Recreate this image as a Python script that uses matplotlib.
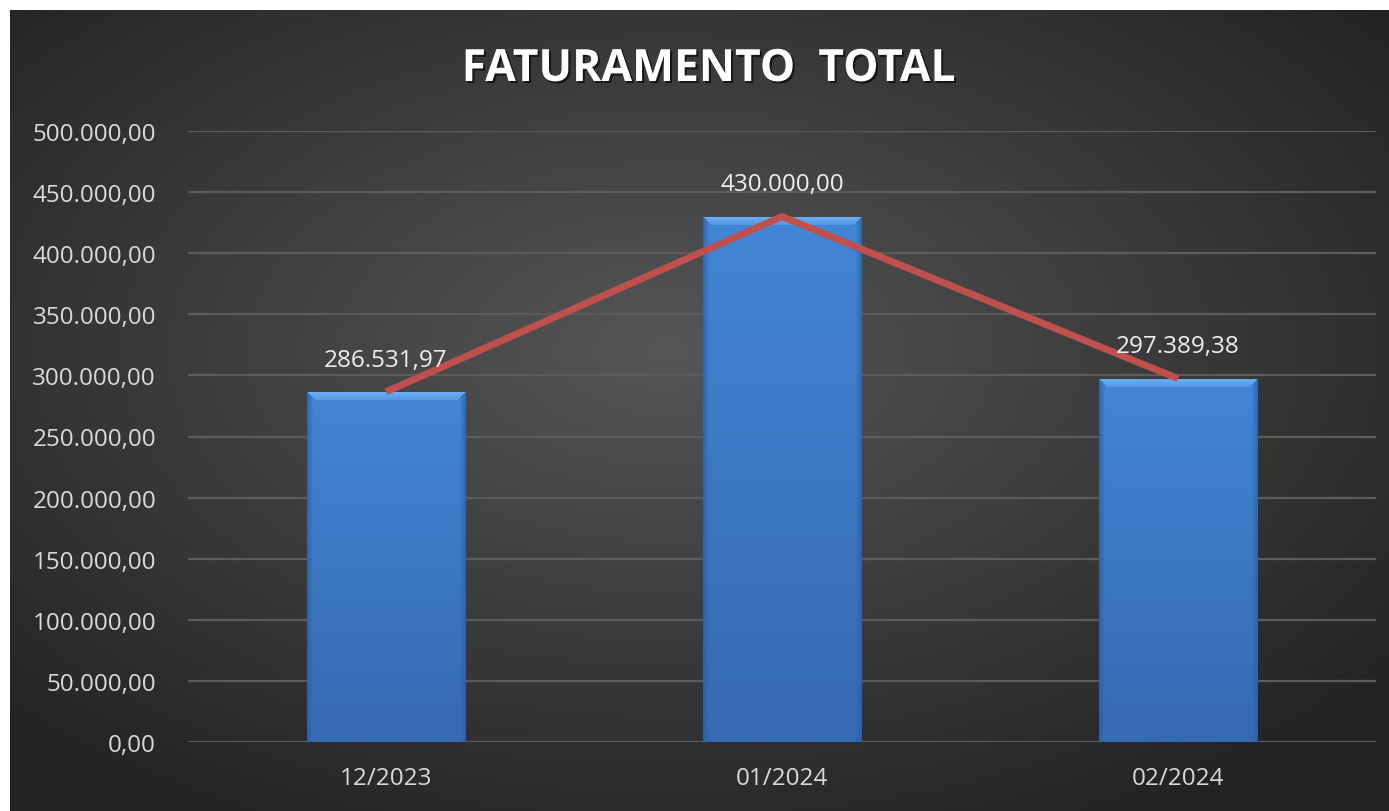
import numpy as np
import matplotlib.pyplot as plt
import matplotlib.patheffects as pe

# data
meses = ["12/2023", "01/2024", "02/2024"]
faturamento = [286531.97, 430000.00, 297389.38]
yticks = [0, 50000, 100000, 150000, 200000, 250000, 300000, 350000, 400000, 450000, 500000]


def brl(v):
    s = f"{v:,.2f}"
    return s.replace(",", "#").replace(".", ",").replace("#", ".")


plt.rcParams['font.family'] = ['Open Sans', 'DejaVu Sans']

W, H = 1389, 812
fig = plt.figure(figsize=(W / 100, H / 100), dpi=100)
fig.patch.set_facecolor("white")

# dark radial background of the chart area
bg = fig.add_axes([10 / W, 0, 1 - 10 / W, (H - 11) / H], zorder=0)
gx, gy = np.meshgrid(np.linspace(-1, 1, 400), np.linspace(-1, 1, 240))
r = np.sqrt(((gx + 0.05) / 1.0) ** 2 + ((gy + 0.15) / 1.0) ** 2)
r = np.clip(r / 1.35, 0, 1)
c0 = np.array([0x56, 0x56, 0x56]) / 255
c1 = np.array([0x23, 0x23, 0x23]) / 255
img = c0[None, None, :] * (1 - r[..., None]) + c1[None, None, :] * r[..., None]
bg.imshow(img, extent=[0, 1, 0, 1], aspect="auto", origin="upper")
bg.set_axis_off()

ax = fig.add_axes([188 / W, (H - 743) / H, 1188 / W, 611 / H], zorder=1)
ax.patch.set_alpha(0)

x = np.arange(len(meses))
bars = ax.bar(x, faturamento, width=0.4, color="#3d7cc9", zorder=2)
ax.set_xlim(-0.5, len(meses) - 0.5)
ax.set_ylim(0, 500000)

ax.set_yticks(yticks)
ax.set_yticklabels([brl(v) for v in yticks], color="#d9d9d9", fontsize=17.5)
ax.set_xticks(x)
ax.set_xticklabels(meses, color="#d9d9d9", fontsize=17.5)
ax.tick_params(length=0)
ax.tick_params(axis="y", pad=23)
ax.tick_params(axis="x", pad=17)
ax.grid(axis="y", color="#5c5c5c", lw=1.6, zorder=1)
ax.set_axisbelow(True)
for s in ax.spines.values():
    s.set_visible(False)

# bevelled gradient fill for each bar
body_top = np.array([0x42, 0x86, 0xd6]) / 255
body_bot = np.array([0x36, 0x6a, 0xb2]) / 255
bevel = np.array([0x6c, 0xb0, 0xf8]) / 255
side = np.array([0x2c, 0x5c, 0xa0]) / 255
for b in bars:
    x0, y0 = b.get_x(), b.get_y()
    bw, bh = b.get_width(), b.get_height()
    p0 = ax.transData.transform((x0, y0))
    p1 = ax.transData.transform((x0 + bw, y0 + bh))
    nw = max(int(round(p1[0] - p0[0])), 2)
    nh = max(int(round(p1[1] - p0[1])), 2)
    rows, cols = np.mgrid[0:nh, 0:nw]
    t = rows / (nh - 1)
    im = body_top[None, None, :] * (1 - t[..., None]) + body_bot[None, None, :] * t[..., None]
    dside = np.minimum(cols, nw - 1 - cols)
    top_mask = (rows < 9) & (rows <= dside)
    k = (1 - rows / 9.0)[..., None] * 0.6 + 0.4
    im = np.where(top_mask[..., None], bevel * k + im * (1 - k), im)
    side_mask = (~top_mask) & (dside < 6)
    ks = (1 - dside / 6.0)[..., None] * 0.7
    im = np.where(side_mask[..., None], side * ks + im * (1 - ks), im)
    art = ax.imshow(im, extent=[x0, x0 + bw, y0, y0 + bh], aspect="auto",
                    origin="upper", zorder=2.5)
    art.set_clip_path(b)

ax.set_xlim(-0.5, len(meses) - 0.5)
ax.set_ylim(0, 500000)

# red trend line over the bars
ax.plot(x, faturamento, color="#c0504d", lw=5, zorder=3, solid_capstyle="butt")

for xi, v in zip(x, faturamento):
    ax.annotate(brl(v), (xi, v), xytext=(0, 14.5), textcoords="offset points",
                ha="center", va="bottom", color="#eeeeee", fontsize=17.5, zorder=4)

fig.text(709 / W, (H - 82) / H, "FATURAMENTO  TOTAL", ha="center", va="baseline",
         color="white", fontsize=32, fontweight="bold",
         path_effects=[pe.withSimplePatchShadow(offset=(1.5, -1.5), shadow_rgbFace="black", alpha=0.6)])

fig.savefig("out.png", dpi=100)
